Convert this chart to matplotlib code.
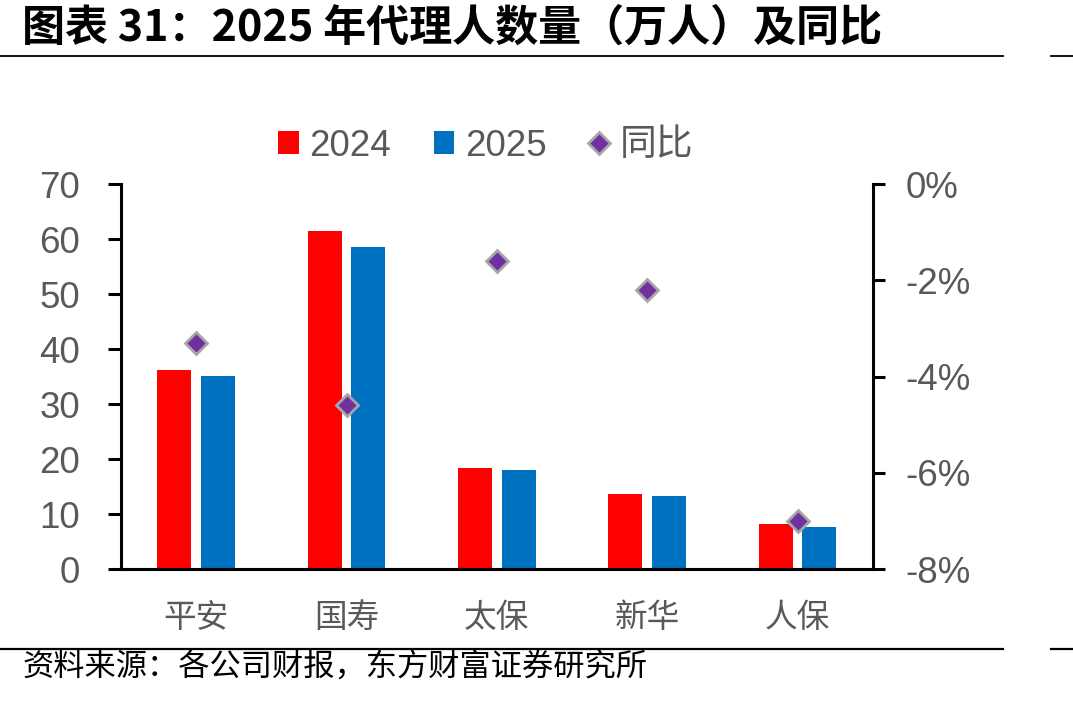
import matplotlib
matplotlib.use("Agg")
import matplotlib.pyplot as plt
from matplotlib.lines import Line2D
from matplotlib.patches import Patch
from matplotlib.ticker import FuncFormatter
import numpy as np

# ---- data ----
companies = ["平安", "国寿", "太保", "新华", "人保"]
agents_2024 = [36.2, 61.4, 18.3, 13.6, 8.2]
agents_2025 = [35.1, 58.6, 18.0, 13.3, 7.6]
yoy = [-3.3, -4.6, -1.6, -2.2, -7.0]   # %

left_ticks = [0, 10, 20, 30, 40, 50, 60, 70]
right_ticks = [0, -2, -4, -6, -8]

RED = "#FF0000"
BLUE = "#0070C0"
PURPLE = "#7030A0"
GREY_EDGE = "#A6A6A6"
TXT = "#595959"
CJK = ["Noto Sans CJK SC", "DejaVu Sans"]
LAT = ["Liberation Sans", "Noto Sans CJK SC"]

plt.rcParams["font.family"] = LAT

fig = plt.figure(figsize=(10.73, 7.01), dpi=100)
ax = fig.add_axes([0.1128, 0.1883, 0.7005, 0.5492])
ax2 = ax.twinx()

x = np.arange(len(companies))
w = 0.225
off = 0.145
ax.bar(x - off, agents_2024, w, color=RED, linewidth=0, zorder=2)
ax.bar(x + off, agents_2025, w, color=BLUE, linewidth=0, zorder=2)
ax2.plot(x, yoy, linestyle="none", marker="D", markersize=11,
         markerfacecolor=PURPLE, markeredgecolor=GREY_EDGE, markeredgewidth=2, zorder=3)

ax.set_xlim(-0.5, len(companies) - 0.5)
ax.set_ylim(0, 70)
ax.set_yticks(left_ticks)
ax2.set_ylim(-8, 0)
ax2.set_yticks(right_ticks)
ax2.yaxis.set_major_formatter(FuncFormatter(lambda v, p: f"{v:.0f}%"))

ax.set_xticks(x)
ax.set_xticklabels(companies, fontfamily=CJK, fontsize=23.5, color=TXT)

for a in (ax, ax2):
    for s in a.spines.values():
        s.set_visible(False)
    a.spines["bottom"].set_visible(True)
    a.spines["bottom"].set_linewidth(2.2)
ax.spines["left"].set_visible(True)
ax.spines["left"].set_linewidth(2.2)
ax2.spines["right"].set_visible(True)
ax2.spines["right"].set_linewidth(2.2)

ax.tick_params(axis="y", direction="out", length=9.5, width=2.2, pad=20,
               labelsize=26.5, labelcolor=TXT)
ax.tick_params(axis="x", length=0, pad=24)
ax2.tick_params(axis="y", direction="out", length=8.5, width=2.2, pad=15,
                labelsize=26.5, labelcolor=TXT)

# legend
handles = [
    Patch(facecolor=RED, edgecolor="none"),
    Patch(facecolor=BLUE, edgecolor="none"),
    Line2D([], [], linestyle="none", marker="D", markersize=11,
           markerfacecolor=PURPLE, markeredgecolor=GREY_EDGE, markeredgewidth=2),
]
leg = fig.legend(handles, ["2024", "2025", "同比"], loc="center",
                 bbox_to_anchor=(486 / 1073, 1 - 146 / 701), ncol=3, frameon=False,
                 fontsize=26.5, handlelength=0.55, handleheight=0.55, handletextpad=0.3,
                 columnspacing=1.15)
for t in leg.get_texts():
    t.set_color(TXT)

# title, rules and source
fig.text(22 / 1073, 1 - 28 / 701, "图表 31：2025 年代理人数量（万人）及同比",
         fontfamily=CJK, fontsize=31, fontweight="bold", color="black",
         ha="left", va="center")
fig.add_artist(Line2D([0, 1003 / 1073], [1 - 55.5 / 701] * 2, color="black", lw=1.3))
fig.add_artist(Line2D([1051 / 1073, 1], [1 - 55.5 / 701] * 2, color="black", lw=1.3))
fig.add_artist(Line2D([0, 1003 / 1073], [1 - 649 / 701] * 2, color="black", lw=1.6))
fig.add_artist(Line2D([1051 / 1073, 1], [1 - 649 / 701] * 2, color="black", lw=1.6))
fig.text(22 / 1073, 1 - 668 / 701, "资料来源：各公司财报，东方财富证券研究所",
         fontfamily=CJK, fontsize=22.5, color="black", ha="left", va="center")

fig.savefig("out.png", dpi=100)
